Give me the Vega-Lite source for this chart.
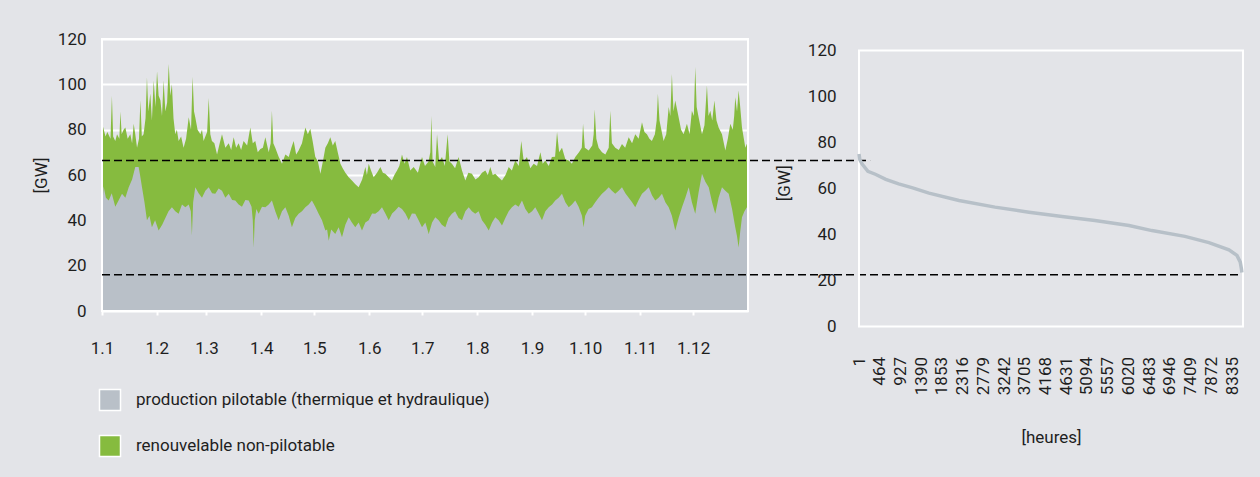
{
  "$schema": "https://vega.github.io/schema/vega-lite/v6.json",
  "background": "#e3e4e8",
  "padding": {"left": 32, "top": 30, "right": 30, "bottom": 40},
  "bounds": "flush",
  "spacing": 111,
  "config": {
    "view": {"stroke": null},
    "font": "Roboto",
    "axis": {
      "labelFont": "Roboto", "titleFont": "Roboto", "labelFontSize": 17, "titleFontSize": 17,
      "titleFontWeight": "normal", "labelColor": "#1e1e1e", "titleColor": "#1e1e1e",
      "gridColor": "#ffffff", "gridWidth": 2, "gridOpacity": 1, "domain": false,
      "labelFlush": false, "labelOverlap": false
    },
    "legend": {
      "orient": "none", "legendX": -3.5, "legendY": 349.5, "title": null, "symbolType": "square",
      "symbolSize": 441, "symbolStrokeColor": "white", "symbolStrokeWidth": 1.5, "symbolOpacity": 1,
      "labelFontSize": 17, "labelFont": "Roboto", "labelColor": "#1e1e1e", "rowPadding": 19,
      "labelOffset": 14.5, "padding": 0, "direction": "vertical", "labelLimit": 0
    }
  },
  "hconcat": [
    {
      "width": 646,
      "height": 272,
      "layer": [
        {
          "data": {"values": [
            {"jour":0,"gw":83},{"jour":1,"gw":80},{"jour":2,"gw":77},{"jour":3,"gw":79},{"jour":4.8,"gw":76},{"jour":5.6,"gw":95},{"jour":6.3,"gw":77},{"jour":7.5,"gw":75},{"jour":8.5,"gw":78},{"jour":9.8,"gw":76},{"jour":10.4,"gw":88},{"jour":11.1,"gw":78},{"jour":12.2,"gw":80},{"jour":13.2,"gw":81},{"jour":14.5,"gw":76},{"jour":16,"gw":78},{"jour":17,"gw":74},{"jour":17.9,"gw":82.6},{"jour":18.8,"gw":78},{"jour":19.8,"gw":72},{"jour":20.9,"gw":76},{"jour":21.7,"gw":93},{"jour":22.5,"gw":77},{"jour":23.5,"gw":78},{"jour":24.6,"gw":85},{"jour":25.4,"gw":103},{"jour":26.2,"gw":88},{"jour":27.3,"gw":96},{"jour":28.2,"gw":84},{"jour":29.2,"gw":101.7},{"jour":30.2,"gw":90},{"jour":31.1,"gw":105.8},{"jour":32,"gw":95},{"jour":33,"gw":93},{"jour":33.9,"gw":86},{"jour":34.8,"gw":101.7},{"jour":35.8,"gw":88},{"jour":36.8,"gw":92},{"jour":37.7,"gw":109},{"jour":38.6,"gw":95},{"jour":39.5,"gw":100},{"jour":40.4,"gw":85},{"jour":41.4,"gw":78},{"jour":42.3,"gw":80},{"jour":43.3,"gw":75},{"jour":44.7,"gw":77},{"jour":46.1,"gw":72},{"jour":47.5,"gw":76},{"jour":49,"gw":85.5},{"jour":50.3,"gw":80},{"jour":51.2,"gw":103.4},{"jour":52,"gw":88},{"jour":52.7,"gw":85.5},{"jour":54,"gw":80},{"jour":55.6,"gw":78},{"jour":56.5,"gw":80},{"jour":57.4,"gw":75},{"jour":59.4,"gw":79},{"jour":60.3,"gw":94},{"jour":61.2,"gw":78},{"jour":62.1,"gw":75},{"jour":63.5,"gw":74},{"jour":65,"gw":69},{"jour":66.5,"gw":74},{"jour":67.8,"gw":78},{"jour":69.7,"gw":72},{"jour":71.6,"gw":74},{"jour":73,"gw":71},{"jour":74.4,"gw":76.7},{"jour":75.8,"gw":72},{"jour":77.2,"gw":74},{"jour":78.6,"gw":71},{"jour":80,"gw":75},{"jour":82,"gw":73},{"jour":83.8,"gw":81},{"jour":85.2,"gw":74},{"jour":86.6,"gw":75},{"jour":88,"gw":70},{"jour":89.5,"gw":71.5},{"jour":90.9,"gw":72},{"jour":92.3,"gw":76.7},{"jour":94.2,"gw":70},{"jour":95.3,"gw":74},{"jour":96,"gw":88.4},{"jour":96.8,"gw":74},{"jour":97.9,"gw":72},{"jour":99.8,"gw":68},{"jour":101.7,"gw":65},{"jour":103.6,"gw":69},{"jour":105.5,"gw":67.9},{"jour":107,"gw":72},{"jour":108.3,"gw":75},{"jour":109.7,"gw":69},{"jour":111.1,"gw":70.8},{"jour":113,"gw":74},{"jour":114.9,"gw":81},{"jour":116.3,"gw":78},{"jour":117.7,"gw":80.4},{"jour":119,"gw":75},{"jour":120.5,"gw":68},{"jour":122,"gw":66},{"jour":123.4,"gw":60.5},{"jour":124.8,"gw":66},{"jour":126.2,"gw":72},{"jour":127.6,"gw":74},{"jour":129,"gw":76.7},{"jour":130.4,"gw":73},{"jour":131.8,"gw":75},{"jour":133.2,"gw":70},{"jour":134.7,"gw":65},{"jour":136,"gw":63},{"jour":137.5,"gw":61},{"jour":139.4,"gw":59},{"jour":141.2,"gw":57.6},{"jour":143,"gw":56},{"jour":145,"gw":54.6},{"jour":147,"gw":58},{"jour":148.8,"gw":63.5},{"jour":149.7,"gw":60},{"jour":150.7,"gw":65},{"jour":152,"gw":62},{"jour":153.5,"gw":59},{"jour":155.4,"gw":61},{"jour":157.3,"gw":63.5},{"jour":158.7,"gw":61},{"jour":160.1,"gw":60.5},{"jour":162,"gw":59},{"jour":163.8,"gw":57.6},{"jour":165.2,"gw":60},{"jour":166.7,"gw":62},{"jour":168,"gw":64},{"jour":169.5,"gw":69},{"jour":171,"gw":65},{"jour":172.3,"gw":67.9},{"jour":174.2,"gw":62},{"jour":176.1,"gw":63.5},{"jour":178.5,"gw":61},{"jour":180.8,"gw":67.9},{"jour":182.5,"gw":64},{"jour":184.5,"gw":66},{"jour":185.5,"gw":70},{"jour":186.1,"gw":86},{"jour":186.8,"gw":66},{"jour":188.3,"gw":63.5},{"jour":189.3,"gw":78},{"jour":190.5,"gw":66},{"jour":192.1,"gw":67.9},{"jour":193.7,"gw":64},{"jour":195.3,"gw":78},{"jour":196.3,"gw":66},{"jour":197.7,"gw":65},{"jour":199.5,"gw":63},{"jour":201.5,"gw":67.9},{"jour":203.4,"gw":62},{"jour":205.3,"gw":57.6},{"jour":207,"gw":61},{"jour":209,"gw":60.5},{"jour":211,"gw":58},{"jour":212.8,"gw":59},{"jour":214.7,"gw":61},{"jour":216.6,"gw":62},{"jour":218,"gw":60},{"jour":219.4,"gw":63.5},{"jour":220.8,"gw":60},{"jour":222.2,"gw":60.5},{"jour":224,"gw":59},{"jour":226,"gw":57.6},{"jour":228,"gw":60},{"jour":229.8,"gw":63.5},{"jour":231.6,"gw":62},{"jour":233.5,"gw":66.4},{"jour":235.5,"gw":64},{"jour":236.9,"gw":75},{"jour":238.3,"gw":66},{"jour":240.1,"gw":67.9},{"jour":242,"gw":63},{"jour":243.9,"gw":65},{"jour":245.8,"gw":64},{"jour":247.7,"gw":70},{"jour":249,"gw":65},{"jour":250.5,"gw":66.4},{"jour":252.4,"gw":64},{"jour":254.2,"gw":67.9},{"jour":256,"gw":68},{"jour":257.1,"gw":79},{"jour":258.3,"gw":70},{"jour":259.9,"gw":72},{"jour":261.8,"gw":67},{"jour":263.7,"gw":66.4},{"jour":265.5,"gw":65},{"jour":267.4,"gw":67.9},{"jour":269.5,"gw":70},{"jour":271.1,"gw":72},{"jour":271.8,"gw":82.6},{"jour":272.8,"gw":72},{"jour":275,"gw":70.8},{"jour":277,"gw":73},{"jour":277.8,"gw":78},{"jour":278.4,"gw":89},{"jour":279.3,"gw":76},{"jour":280.6,"gw":72},{"jour":282.5,"gw":70},{"jour":284.4,"gw":69},{"jour":286.3,"gw":72},{"jour":287.2,"gw":88.4},{"jour":288.1,"gw":74},{"jour":290,"gw":72},{"jour":292,"gw":71},{"jour":293.8,"gw":73.7},{"jour":295.6,"gw":72},{"jour":297.6,"gw":76.7},{"jour":299.5,"gw":74},{"jour":301.3,"gw":78},{"jour":303.2,"gw":76},{"jour":305.1,"gw":83.3},{"jour":306.5,"gw":79},{"jour":307.9,"gw":78},{"jour":309.3,"gw":76},{"jour":310.7,"gw":75},{"jour":312.4,"gw":78},{"jour":313.4,"gw":84},{"jour":314.1,"gw":95.8},{"jour":315,"gw":84},{"jour":317.3,"gw":75},{"jour":318.8,"gw":78},{"jour":320.2,"gw":90},{"jour":321.1,"gw":86},{"jour":322,"gw":104.6},{"jour":322.9,"gw":88},{"jour":323.9,"gw":92.9},{"jour":325.8,"gw":85.5},{"jour":327.2,"gw":80},{"jour":328.6,"gw":78},{"jour":330.5,"gw":82.6},{"jour":332,"gw":78},{"jour":333.3,"gw":88.4},{"jour":334.4,"gw":86},{"jour":335.2,"gw":107.6},{"jour":336,"gw":90},{"jour":337.1,"gw":85.5},{"jour":339,"gw":78},{"jour":340.4,"gw":82},{"jour":341.8,"gw":99.5},{"jour":342.7,"gw":86},{"jour":343.7,"gw":88.4},{"jour":344.8,"gw":84},{"jour":346,"gw":92.9},{"jour":347.2,"gw":84},{"jour":348.4,"gw":81},{"jour":350.3,"gw":78},{"jour":352.2,"gw":70.8},{"jour":353.6,"gw":76},{"jour":355,"gw":82.6},{"jour":356.4,"gw":80},{"jour":357.2,"gw":86},{"jour":357.8,"gw":94.3},{"jour":358.8,"gw":88},{"jour":359.7,"gw":97.3},{"jour":360.6,"gw":90},{"jour":361.6,"gw":81},{"jour":363.5,"gw":72},{"jour":365,"gw":75}
          ]},
          "mark": {"type": "area", "interpolate": "linear"},
          "encoding": {
            "x": {"field": "jour", "type": "quantitative", "scale": {"domain": [0, 365], "nice": false, "zero": false},
              "axis": {"values": [0,31,59,90,120,151,181,212,243,273,304,334], "tickCount": 20,
                "labelExpr": "'1.' + (indexof([0,31,59,90,120,151,181,212,243,273,304,334], datum.value) + 1)",
                "grid": false, "ticks": true, "tickColor": "#ffffff", "tickSize": 4, "tickWidth": 2,
                "labelPadding": 25, "labelOverlap": false, "title": null}},
            "y": {"field": "gw", "type": "quantitative", "scale": {"domain": [0, 120], "nice": false},
              "axis": {"values": [0,20,40,60,80,100,120], "tickCount": 10, "ticks": false, "labelPadding": 16, "title": "[GW]", "titlePadding": 7}},
            "color": {"datum": "renouvelable non-pilotable", "type": "nominal",
              "scale": {"domain": ["production pilotable (thermique et hydraulique)", "renouvelable non-pilotable"], "range": ["#b9c0c8", "#86bb3f"]}}
          }
        },
        {
          "data": {"values": [
            {"jour":0,"gw":40},{"jour":0.5,"gw":50},{"jour":0.9,"gw":55},{"jour":2.2,"gw":50},{"jour":3.8,"gw":48.8},{"jour":5.5,"gw":52},{"jour":7.5,"gw":46},{"jour":9.5,"gw":49},{"jour":11.3,"gw":51.7},{"jour":13.2,"gw":50},{"jour":15.1,"gw":54.6},{"jour":17,"gw":58},{"jour":18.8,"gw":63.5},{"jour":20.7,"gw":63.5},{"jour":21.5,"gw":60},{"jour":22.6,"gw":54.6},{"jour":24,"gw":48},{"jour":25.4,"gw":40},{"jour":26.8,"gw":42},{"jour":28.2,"gw":37},{"jour":30,"gw":40},{"jour":32,"gw":35.5},{"jour":34,"gw":38},{"jour":35.8,"gw":41},{"jour":37.6,"gw":44},{"jour":39.5,"gw":45.8},{"jour":41.4,"gw":44},{"jour":43.3,"gw":42.9},{"jour":45.2,"gw":47},{"jour":47.1,"gw":45.8},{"jour":49,"gw":47},{"jour":50.2,"gw":44},{"jour":50.8,"gw":33.3},{"jour":51.5,"gw":48},{"jour":52.7,"gw":54.6},{"jour":54.6,"gw":52},{"jour":56.5,"gw":50},{"jour":58.4,"gw":53},{"jour":60.3,"gw":54.6},{"jour":62.2,"gw":52},{"jour":64,"gw":51.7},{"jour":65.9,"gw":54},{"jour":67.8,"gw":53},{"jour":69.7,"gw":50},{"jour":71.6,"gw":51.7},{"jour":73.5,"gw":49},{"jour":75.3,"gw":48.8},{"jour":77.2,"gw":47},{"jour":79.1,"gw":46},{"jour":81,"gw":49},{"jour":82.9,"gw":48.8},{"jour":84.5,"gw":46},{"jour":85.2,"gw":40},{"jour":85.7,"gw":28},{"jour":86.3,"gw":40},{"jour":87.2,"gw":45},{"jour":88.5,"gw":42.9},{"jour":90.4,"gw":46},{"jour":92.3,"gw":45.8},{"jour":94.2,"gw":47},{"jour":96,"gw":48.8},{"jour":97.9,"gw":44},{"jour":99.8,"gw":40},{"jour":101.7,"gw":44},{"jour":103.6,"gw":45.8},{"jour":105.5,"gw":42},{"jour":107.3,"gw":37},{"jour":109.2,"gw":41},{"jour":111.1,"gw":42.9},{"jour":113,"gw":44},{"jour":114.9,"gw":45.8},{"jour":116.8,"gw":47},{"jour":118.6,"gw":48.8},{"jour":120.5,"gw":46},{"jour":122.4,"gw":42.9},{"jour":124.3,"gw":40},{"jour":126.2,"gw":35.5},{"jour":127.2,"gw":36},{"jour":128.1,"gw":31},{"jour":129.5,"gw":36},{"jour":131.8,"gw":34},{"jour":133.7,"gw":37},{"jour":135.6,"gw":32.5},{"jour":137.5,"gw":38},{"jour":139.4,"gw":41.4},{"jour":141.2,"gw":39},{"jour":143.1,"gw":37},{"jour":145,"gw":39},{"jour":146.9,"gw":35.5},{"jour":148.8,"gw":39},{"jour":150.7,"gw":40},{"jour":152.6,"gw":43},{"jour":154.4,"gw":42.9},{"jour":156.3,"gw":44},{"jour":158.2,"gw":45.8},{"jour":160.1,"gw":43},{"jour":162,"gw":40},{"jour":163.9,"gw":43},{"jour":165.7,"gw":44.3},{"jour":167.6,"gw":46},{"jour":169.5,"gw":45},{"jour":171.4,"gw":43},{"jour":173.3,"gw":40},{"jour":175.1,"gw":43},{"jour":177,"gw":42.9},{"jour":178.9,"gw":40},{"jour":180.8,"gw":37},{"jour":182.7,"gw":39},{"jour":184.6,"gw":34},{"jour":186.5,"gw":39},{"jour":188.3,"gw":41.4},{"jour":190.2,"gw":40},{"jour":192,"gw":38},{"jour":194,"gw":37},{"jour":195.8,"gw":41},{"jour":197.7,"gw":42.9},{"jour":199.5,"gw":44},{"jour":201.5,"gw":41},{"jour":203.4,"gw":40},{"jour":205.3,"gw":44},{"jour":207.2,"gw":45.8},{"jour":209,"gw":44},{"jour":210.9,"gw":42.9},{"jour":212.8,"gw":44},{"jour":214.7,"gw":40},{"jour":216.6,"gw":38},{"jour":218.5,"gw":35.5},{"jour":220.4,"gw":39},{"jour":222.2,"gw":41.4},{"jour":224.1,"gw":40},{"jour":226,"gw":37.7},{"jour":227.9,"gw":41},{"jour":229.8,"gw":44},{"jour":231.6,"gw":45.8},{"jour":233.5,"gw":47},{"jour":235.4,"gw":46},{"jour":237.3,"gw":48.8},{"jour":239.2,"gw":45},{"jour":241.1,"gw":42.9},{"jour":243,"gw":44},{"jour":244.8,"gw":45.8},{"jour":246.7,"gw":43},{"jour":248.6,"gw":40},{"jour":250.5,"gw":44},{"jour":252.4,"gw":45.8},{"jour":254.3,"gw":47},{"jour":256.1,"gw":48.8},{"jour":258,"gw":50},{"jour":259.9,"gw":51.7},{"jour":261.8,"gw":48},{"jour":263.7,"gw":45.8},{"jour":265.5,"gw":47},{"jour":267.4,"gw":48.8},{"jour":269.3,"gw":46},{"jour":271.2,"gw":42},{"jour":272.1,"gw":37},{"jour":273,"gw":42},{"jour":274.9,"gw":45},{"jour":276.8,"gw":45.8},{"jour":278.7,"gw":48},{"jour":280.6,"gw":50},{"jour":282.5,"gw":51.7},{"jour":284.4,"gw":53},{"jour":286.3,"gw":54.6},{"jour":288.1,"gw":53},{"jour":290,"gw":51.7},{"jour":291.9,"gw":53},{"jour":293.8,"gw":54.6},{"jour":295.7,"gw":52},{"jour":297.6,"gw":50},{"jour":299.5,"gw":48},{"jour":301.3,"gw":45.8},{"jour":303.2,"gw":49},{"jour":305.1,"gw":51.7},{"jour":307,"gw":53},{"jour":308.9,"gw":54.6},{"jour":310.8,"gw":51},{"jour":312.6,"gw":48.8},{"jour":314.5,"gw":50},{"jour":316.4,"gw":51.7},{"jour":318.3,"gw":48},{"jour":320.2,"gw":45.8},{"jour":322,"gw":42},{"jour":323.9,"gw":35.5},{"jour":325.8,"gw":41},{"jour":327.7,"gw":45.8},{"jour":329.6,"gw":50},{"jour":331.5,"gw":54.6},{"jour":333.3,"gw":48},{"jour":335.2,"gw":42.9},{"jour":337,"gw":52},{"jour":339,"gw":60.5},{"jour":340.9,"gw":57},{"jour":342.8,"gw":54.6},{"jour":344.7,"gw":48},{"jour":346.5,"gw":42.9},{"jour":348.4,"gw":50},{"jour":350.3,"gw":54.6},{"jour":352.2,"gw":53},{"jour":354.1,"gw":51.7},{"jour":356,"gw":45},{"jour":357.8,"gw":37},{"jour":358.8,"gw":33},{"jour":359.7,"gw":28},{"jour":360.6,"gw":35},{"jour":361.6,"gw":41.4},{"jour":363,"gw":44},{"jour":364.4,"gw":45.8},{"jour":365,"gw":45.8}
          ]},
          "mark": {"type": "area", "interpolate": "linear"},
          "encoding": {
            "x": {"field": "jour", "type": "quantitative"},
            "y": {"field": "gw", "type": "quantitative"},
            "color": {"datum": "production pilotable (thermique et hydraulique)", "type": "nominal"}
          }
        },
        {
          "data": {"values": [{"cadre": 1}]},
          "mark": {"type": "rect", "filled": false, "stroke": "#ffffff", "strokeWidth": 2},
          "encoding": {
            "x": {"datum": 0, "type": "quantitative"},
            "x2": {"datum": 365},
            "y": {"datum": 0, "type": "quantitative"},
            "y2": {"datum": 120}
          }
        },
        {
          "data": {"values": [{"niveau": 66.4, "debut": 0, "fin": 434}, {"niveau": 16, "debut": 0, "fin": 644}]},
          "mark": {"type": "rule", "color": "#000000", "strokeWidth": 1.3, "strokeDash": [8, 4], "clip": false},
          "encoding": {
            "x": {"field": "debut", "type": "quantitative"},
            "x2": {"field": "fin"},
            "y": {"field": "niveau", "type": "quantitative"}
          }
        }
      ]
    },
    {
      "width": 384,
      "height": 287.5,
      "layer": [
        {
          "data": {"values": [{"cadre": 1}]},
          "mark": {"type": "rect", "filled": false, "stroke": "#ffffff", "strokeWidth": 2},
          "encoding": {
            "x": {"datum": 1, "type": "quantitative", "scale": {"domain": [1, 8580], "nice": false, "zero": false},
              "axis": {"values": [1,464,927,1390,1853,2316,2779,3242,3705,4168,4631,5094,5557,6020,6483,6946,7409,7872,8335],
                "tickCount": 40, "format": "d", "labelOverlap": false, "labelAngle": -90, "grid": false, "ticks": false, "labelPadding": 30, "title": "[heures]", "titlePadding": 35}},
            "x2": {"datum": 8580},
            "y": {"datum": 0, "type": "quantitative", "scale": {"domain": [0, 125], "nice": false},
              "axis": {"values": [0,20,40,60,80,100,120], "tickCount": 10, "ticks": false, "labelPadding": 23, "title": "[GW]", "titlePadding": 14}},
            "y2": {"datum": 120}
          }
        },
        {
          "data": {"values": [
            {"heure":1,"gw":75},{"heure":20,"gw":72.5},{"heure":68,"gw":70.7},{"heure":200,"gw":67.5},{"heure":366,"gw":66.2},{"heure":600,"gw":64},{"heure":887,"gw":62},{"heure":1200,"gw":60.3},{"heure":1565,"gw":58},{"heure":2235,"gw":54.8},{"heure":3039,"gw":51.9},{"heure":3799,"gw":49.7},{"heure":4536,"gw":47.8},{"heure":5273,"gw":46.1},{"heure":6033,"gw":43.9},{"heure":6546,"gw":41.7},{"heure":7282,"gw":39.2},{"heure":7819,"gw":36.5},{"heure":8266,"gw":33.3},{"heure":8445,"gw":30.9},{"heure":8519,"gw":28},{"heure":8545,"gw":25},{"heure":8555,"gw":23.5}
          ]},
          "mark": {"type": "line", "color": "#b7c0c8", "strokeWidth": 3.5},
          "encoding": {
            "x": {"field": "heure", "type": "quantitative"},
            "y": {"field": "gw", "type": "quantitative"}
          }
        }
      ]
    }
  ]
}
